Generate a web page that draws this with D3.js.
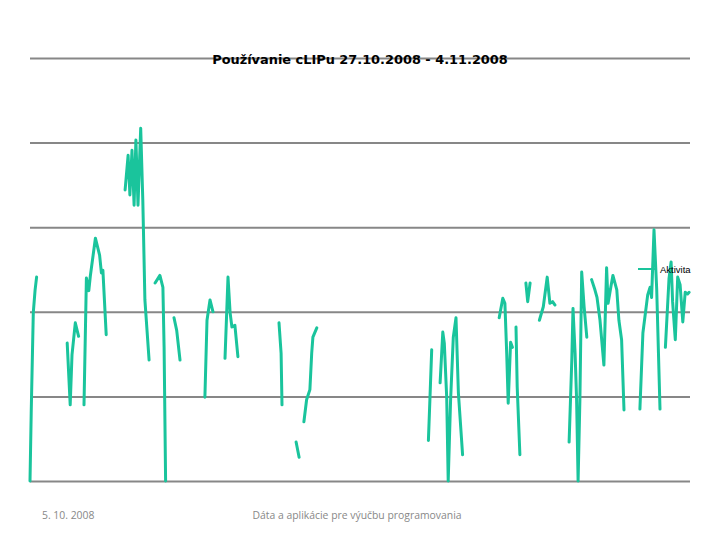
<!DOCTYPE html>
<html>
<head>
<meta charset="utf-8">
<script src="https://cdn.jsdelivr.net/npm/d3@7"></script>
<style>
  body { margin: 0; background: #fff; }
  svg { display: block; }
</style>
</head>
<body>
<script>
// hour index since 27.10.2008 (null value = no data)
var hours = [
  0, 0.4, 1.1, 1.7, 2.2, 3,
  12.4, 13.4, 14, 15.1, 16.2, 17,
  18, 18.8, 19.6, 20.1, 21.8, 23.2, 23.8, 24.3, 25.4, 26,
  31.7, 32.7, 33.3, 34, 34.7, 35.3, 36, 36.9, 37.6, 37.8, 38.3, 39.7, 40.5,
  41.7, 43.3, 44.3, 44.7, 45.2, 46,
  48, 48.9, 50, 51,
  58.3, 59, 60, 61, 62,
  65, 66, 66.7, 67.3, 68.3, 69.3, 70,
  83, 83.7, 84, 85,
  88.7, 89.7, 90.5,
  91.3, 92.2, 93.3, 93.9, 94.3, 95.6, 96,
  132.8, 133.3, 133.9, 135,
  136.7, 137.6, 138.1, 138.9, 139.4, 140.2, 141.1, 142, 142.8, 144.2, 145,
  156.4, 157.6, 158.3, 158.9, 159.4, 160.2, 160.8, 161.4,
  162, 162.4, 163.3, 164,
  165.3, 165.9, 166.7, 167,
  169.8, 171.1, 172.4, 173.3, 174.2, 175, 176,
  179.7, 180.6, 181, 181.7, 182.2, 182.7, 183.3, 183.9, 184.7, 185.6, 186.5,
  187.2, 188.3, 189, 190, 191.3, 192.2, 192.7, 193.6, 194.3, 195.6, 196.3, 197.2, 198, 199,
  203.3, 204.3, 205.9, 206.7, 207.2, 208, 208.9, 210, 211,
  211.8, 213, 213.7, 214.2, 215.1, 215.9, 216.7, 217.6, 218.4, 219.2, 219.7
];

var aktivita = [
  0, 8, 19.9, 22.6, 24.1, null,
  16.3, 9.0, 14.9, 18.7, 17.1, null,
  9.0, 24.0, 22.5, 24.2, 28.7, 26.7, 24.6, 24.9, 17.3, null,
  34.4, 38.5, 33.8, 39.1, 32.6, 40.3, 32.6, 41.7, 33.2, 29.9, 21.4, 14.3, null,
  23.4, 24.3, 22.9, 15.8, 0, null,
  19.3, 17.8, 14.3, null,
  9.9, 19.0, 21.4, 20.0, null,
  14.5, 24.1, 19.9, 18.2, 18.4, 14.7, null,
  18.7, 15.1, 9.0, null,
  4.6, 2.8, null,
  7.0, 9.6, 10.8, 15.1, 17.0, 18.1, null,
  4.8, 9.6, 15.5, null,
  11.6, 17.6, 16.3, 9.9, 0, 9.6, 17.0, 19.3, 10.4, 3.1, null,
  19.3, 21.6, 21.0, 15.1, 9.2, 16.4, 15.8, null,
  18.2, 11.1, 3.1, null,
  23.4, 21.2, 23.4, null,
  19.0, 20.6, 24.1, 21.0, 21.2, 20.8, null,
  4.6, 14.3, 20.4, 15.1, 9.6, 0, 9.6, 24.7, 20.6, 17.0, null,
  23.8, 22.6, 21.7, 19.0, 13.7, 25.2, 21.0, 22.9, 24.3, 22.6, 19.0, 16.7, 8.4, null,
  8.5, 17.5, 22.0, 22.9, 21.7, 29.7, 22.7, 8.5, null,
  15.8, 23.9, 25.9, 21.2, 16.7, 24.1, 23.2, 18.8, 22.3, 22.1, 22.3
];

var gridTicks = [0, 10, 20, 30, 40, 50];
var title = "Používanie cLIPu 27.10.2008 - 4.11.2008";
var seriesName = "Aktivita";
var footerDate = "5. 10. 2008";
var footerText = "Dáta a aplikácie pre výučbu programovania";

var data = hours.map(function(h, i) { return {t: h, v: aktivita[i]}; });

var width = 720, height = 540;
var margin = {top: 58, right: 30, bottom: 59, left: 30};

var svg = d3.select("body").append("svg")
    .attr("width", width)
    .attr("height", height);

var x = d3.scaleLinear().domain([0, 220]).range([margin.left, width - margin.right]);
var y = d3.scaleLinear().domain([0, 50]).range([height - margin.bottom, margin.top]);

// horizontal gridlines
svg.append("g")
    .attr("transform", "translate(" + margin.left + ",0)")
    .call(d3.axisLeft(y).tickValues(gridTicks).tickSize(-(width - margin.left - margin.right)).tickFormat(""))
    .call(function(g) { g.select(".domain").remove(); })
    .selectAll("line")
    .attr("stroke", "#878787")
    .attr("stroke-width", 2);

// the series
var line = d3.line()
    .defined(function(d) { return d.v !== null; })
    .x(function(d) { return x(d.t); })
    .y(function(d) { return y(d.v); });

svg.append("path")
    .datum(data)
    .attr("fill", "none")
    .attr("stroke", "#1ac49c")
    .attr("stroke-width", 3)
    .attr("stroke-linejoin", "round")
    .attr("stroke-linecap", "round")
    .attr("d", line);

// title
svg.append("text")
    .attr("x", 360)
    .attr("y", 64)
    .attr("text-anchor", "middle")
    .style("font-family", "DejaVu Sans, Verdana, sans-serif")
    .style("font-weight", "bold")
    .style("font-size", "12.9px")
    .attr("fill", "#000")
    .text(title);

// legend
var legend = svg.append("g").attr("transform", "translate(638,269)");
legend.append("line")
    .attr("x1", 0).attr("x2", 19)
    .attr("stroke", "#1ac49c")
    .attr("stroke-width", 2);
legend.append("text")
    .attr("x", 22)
    .attr("y", 3.5)
    .style("font-family", "Liberation Sans, Arial, sans-serif")
    .style("font-size", "9.5px")
    .attr("fill", "#000")
    .text(seriesName);

// footer
svg.append("text")
    .attr("x", 42)
    .attr("y", 519)
    .style("font-family", "Open Sans, sans-serif")
    .style("font-size", "10.4px")
    .attr("fill", "#888")
    .text(footerDate);

svg.append("text")
    .attr("x", 357)
    .attr("y", 519)
    .attr("text-anchor", "middle")
    .style("font-family", "Open Sans, sans-serif")
    .style("font-size", "10.4px")
    .attr("fill", "#888")
    .text(footerText);
</script>
</body>
</html>
